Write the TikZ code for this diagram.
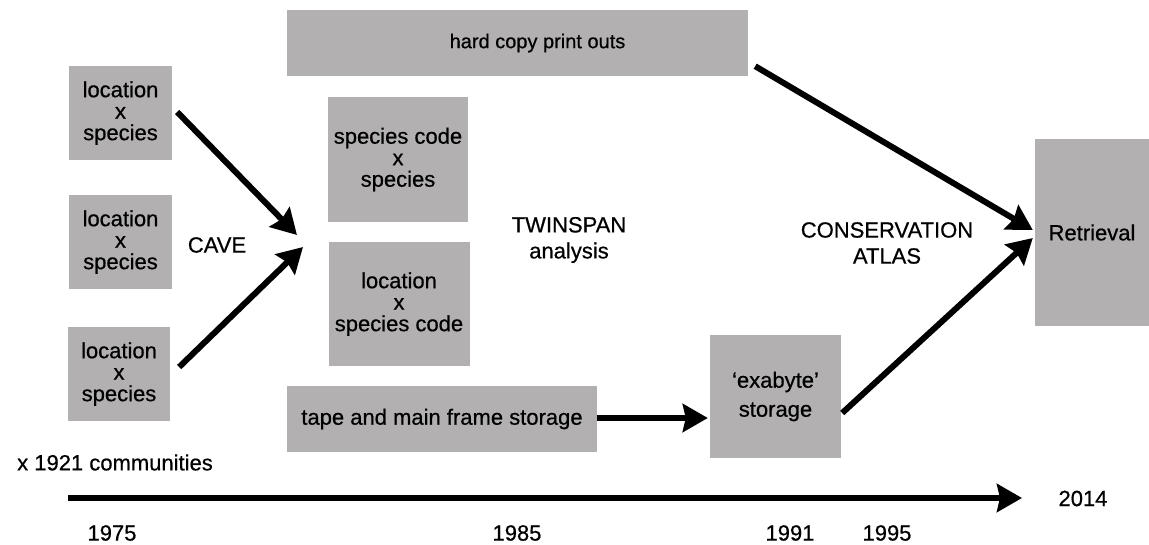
\documentclass[tikz,border=0pt]{standalone}
\usepackage{fontspec}
\setmainfont{Liberation Sans}[BoldFont=Liberation Sans, BoldFeatures={FakeBold=0.6}]
\usetikzlibrary{arrows.meta}
\definecolor{boxgray}{RGB}{178,176,177}
\begin{document}
\begin{tikzpicture}[x=1pt,y=-1pt,
  box/.style={fill=boxgray, draw=none, inner sep=0pt, align=center,
    font=\fontsize{22}{21.5}\selectfont\bfseries},
  lbl/.style={align=center, inner sep=0pt, font=\fontsize{22}{26}\selectfont\bfseries},
  arr/.style={line width=6pt, -{Stealth[length=25pt,width=28pt,inset=3pt]}}]
\useasboundingbox (0,0) rectangle (1149,544);

% boxes
\node[box, minimum width=103pt, minimum height=94pt] (loc1) at (120.5,113) {location\\x\\species};
\node[box, minimum width=103pt, minimum height=94pt] (loc2) at (120.5,242) {location\\x\\species};
\node[box, minimum width=102pt, minimum height=94pt] (loc3) at (119,374) {location\\x\\species};
\node[box, minimum width=461pt, minimum height=66pt, font=\fontsize{20}{24}\selectfont\bfseries] (hard) at (517.5,43) {\hspace*{40pt}hard copy print outs};
\node[box, minimum width=140pt, minimum height=125pt] (spc) at (398,159.5) {species code\\x\\species};
\node[box, minimum width=141pt, minimum height=124pt] (locspc) at (399,304) {location\\x\\species code};
\node[box, minimum width=310pt, minimum height=66pt] (tape) at (442,419) {tape and main frame storage};
\node[box, minimum width=131pt, minimum height=123pt, font=\fontsize{22}{29}\selectfont\bfseries] (exa) at (775.5,396.5) {‘exabyte’\\storage};
\node[box, minimum width=114pt, minimum height=187pt] (ret) at (1092,232.5) {Retrieval};

% labels
\node[lbl] (cave) at (217,245) {CAVE};
\node[lbl] (twin) at (569,240) {TWINSPAN\\analysis};
\node[lbl] (cons) at (887,243) {CONSERVATION\\ATLAS};
\node[lbl, anchor=west] (comm) at (17,462.5) {x 1921 communities};
\node[lbl] (y1975) at (112,533) {1975};
\node[lbl] (y1985) at (517,533) {1985};
\node[lbl] (y1991) at (790,533) {1991};
\node[lbl] (y1995) at (887,533) {1995};
\node[lbl] (y2014) at (1083,498.5) {2014};

% connectors
\coordinate (m1) at (297,235);
\coordinate (m2) at (303,247);
\draw[arr] ([shift={(5,-1)}]loc1.east) -- (m1);
\draw[arr] ([shift={(9,-7)}]loc3.east) -- (m2);
\draw[arr] ([shift={(7,-10)}]hard.south east) -- ([shift={(-2,-2.5)}]ret.west);
\draw[arr] ([shift={(1,16.5)}]exa.east) -- ([shift={(-2,5.5)}]ret.west);
\draw[arr, shorten >=2pt] ([yshift=1pt]tape.east) -- ([yshift=1pt]tape.east -| exa.west);

% timeline
\coordinate (t0) at (68,498);
\coordinate (t1) at (1022,498);
\draw[arr] (t0) -- (t1);
\end{tikzpicture}
\end{document}
